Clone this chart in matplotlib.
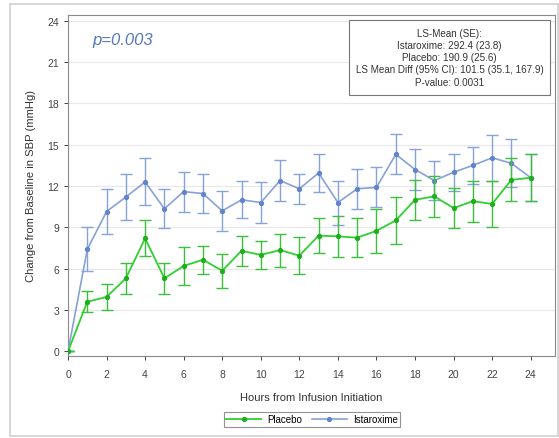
import matplotlib
matplotlib.use("Agg")
import matplotlib.pyplot as plt
from matplotlib.patches import Rectangle
from matplotlib.lines import Line2D

hours = list(range(0, 25))
istaroxime = [0, 7.4, 10.15, 11.2, 12.3, 10.35, 11.6, 11.45, 10.2, 11.0, 10.8, 12.4, 11.8,
              12.95, 10.8, 11.8, 11.9, 14.3, 13.2, 12.4, 13.0, 13.5, 14.05, 13.65, 12.6]
istaroxime_se = [0, 1.6, 1.6, 1.7, 1.7, 1.4, 1.45, 1.4, 1.45, 1.35, 1.5, 1.5, 1.1,
                 1.4, 1.6, 1.45, 1.45, 1.45, 1.5, 1.4, 1.35, 1.35, 1.65, 1.75, 1.7]
placebo = [0, 3.6, 3.95, 5.3, 8.2, 5.3, 6.2, 6.65, 5.85, 7.3, 7.0, 7.35, 6.95,
           8.4, 8.35, 8.25, 8.75, 9.5, 11.0, 11.25, 10.4, 10.9, 10.7, 12.45, 12.6]
placebo_se = [0, 0.75, 0.95, 1.1, 1.3, 1.1, 1.4, 1.0, 1.25, 1.1, 1.0, 1.2, 1.35,
              1.25, 1.5, 1.4, 1.6, 1.7, 1.45, 1.5, 1.45, 1.5, 1.65, 1.55, 1.7]

yticks = list(range(0, 25, 3))
xticks = list(range(0, 25, 2))
box_lines = ["LS-Mean (SE):", "Istaroxime: 292.4 (23.8)", "Placebo: 190.9 (25.6)",
             "LS Mean Diff (95% CI): 101.5 (35.1, 167.9)", "P-value: 0.0031"]

plt.rcParams['font.family'] = ['Liberation Sans', 'DejaVu Sans']

blue = '#86a2da'
blue_pt = '#6384c8'
green = '#2ed12e'
green_eb = '#3cbf3c'

W, H = 559, 439
fig = plt.figure(figsize=(5.59, 4.39), dpi=100)
fig.patches.append(Rectangle((10/W, 2/H), 548/W, 432/H, transform=fig.transFigure,
                             fill=False, edgecolor='#d0d0d0', linewidth=1.2))
ax = fig.add_axes([68/W, 82.5/H, 487/W, 341/H])

ax.errorbar(hours, istaroxime, yerr=istaroxime_se, color=blue, ecolor=blue, elinewidth=1.0,
            capsize=4, capthick=1.0, linewidth=1.2, marker='o', markersize=2.8,
            markerfacecolor=blue_pt, markeredgecolor=blue_pt, zorder=3)
ax.errorbar(hours, placebo, yerr=placebo_se, color=green, ecolor=green_eb, elinewidth=1.0,
            capsize=4, capthick=1.0, linewidth=1.3, marker='o', markersize=2.8,
            markerfacecolor='#1fae1f', markeredgecolor='#1fae1f', zorder=4)

ax.set_xlim(0, 25.26)
ax.set_ylim(-0.3, 24.45)
ax.set_xticks(xticks)
ax.set_yticks(yticks)
for y in yticks[1:]:
    ax.axhline(y, color='#e8e8e8', linewidth=0.9, zorder=0)
ax.tick_params(axis='both', labelsize=7.5, colors='#444444', length=3, width=0.7)
ax.tick_params(axis='x', pad=7)
for s in ax.spines.values():
    s.set_color('#8a8a8a')
    s.set_linewidth(0.8)
ax.set_xlabel('Hours from Infusion Initiation', fontsize=8.0, color='#333333', labelpad=9)
ax.set_ylabel('Change from Baseline in SBP (mmHg)', fontsize=8.1, color='#333333', labelpad=8)

ax.text(0.05, 0.926, 'p=0.003', transform=ax.transAxes, fontsize=12, style='italic',
        color='#5577bb', ha='left', va='center')

fig.patches.append(Rectangle((349/W, 1 - 95.5/H), 201/W, 74.8/H, transform=fig.transFigure,
                             facecolor='white', edgecolor='#777777', linewidth=0.8, zorder=5))
fig.text(449.5/W, 1 - 58.3/H, "\n".join(box_lines), fontsize=7.1, color='#333333',
         ha='center', va='center', linespacing=1.27, zorder=6)

handles = [Line2D([], [], color=green, marker='o', markersize=2.8, markerfacecolor='#1fae1f',
                  markeredgecolor='#1fae1f', linewidth=1.3),
           Line2D([], [], color=blue, marker='o', markersize=2.8, markerfacecolor=blue_pt,
                  markeredgecolor=blue_pt, linewidth=1.2)]
leg = fig.legend(handles, ['Placebo', 'Istaroxime'], loc='center',
                 bbox_to_anchor=(312/W, 1 - 420.5/H), ncol=2, fontsize=7, frameon=True,
                 fancybox=False, edgecolor='#777777', handlelength=3.6, columnspacing=1.0,
                 borderpad=0.25, handletextpad=0.6)
leg.get_frame().set_linewidth(0.8)

fig.savefig('out.png', dpi=100)
